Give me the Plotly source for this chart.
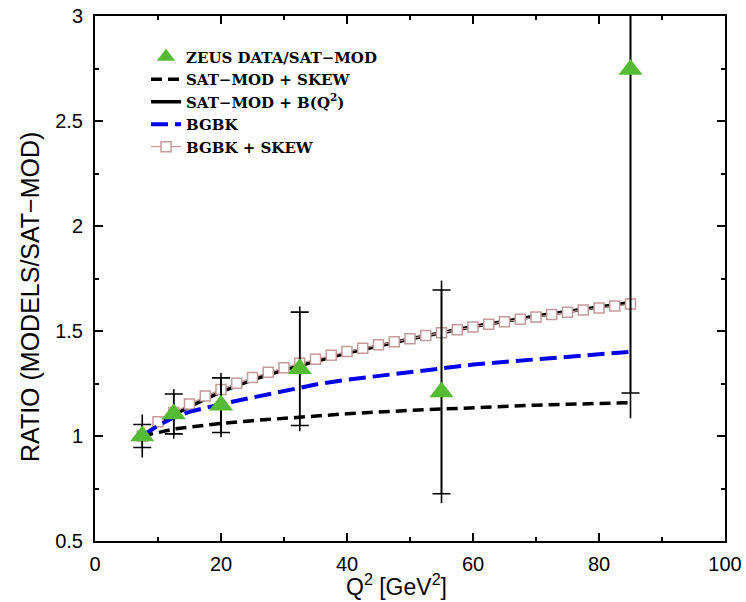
import plotly.graph_objects as go

# ZEUS data / SAT-MOD
data_x = [7.5, 12.5, 20, 32.5, 55, 85]
data_y = [1.0, 1.105, 1.147, 1.32, 1.21, 2.745]
data_stat = [0.055, 0.095, 0.13, 0.27, 0.485, 1.54]
data_tot = [0.103, 0.118, 0.153, 0.297, 0.53, 1.66]

# model curves
curve_x = [7.5, 10, 12.5, 15, 20, 25, 30, 35, 40, 50, 60, 70, 85]
satmod_skew = [1.0, 1.018, 1.033, 1.042, 1.060, 1.073, 1.085, 1.097, 1.106, 1.122, 1.136, 1.147, 1.159]
satmod_bq2 = [0.995, 1.055, 1.100, 1.140, 1.210, 1.267, 1.315, 1.357, 1.395, 1.462, 1.521, 1.571, 1.636]
bgbk = [1.0, 1.05, 1.088, 1.115, 1.152, 1.184, 1.215, 1.245, 1.268, 1.305, 1.34, 1.365, 1.401]

sq_x = [7.5, 10, 12.5, 15, 17.5, 20, 22.5, 25, 27.5, 30, 32.5, 35, 37.5, 40, 42.5, 45,
        47.5, 50, 52.5, 55, 57.5, 60, 62.5, 65, 67.5, 70, 72.5, 75, 77.5, 80, 82.5, 85]
bgbk_skew = [1.00, 1.068, 1.112, 1.152, 1.19, 1.222, 1.251, 1.278, 1.303, 1.325, 1.346, 1.365,
             1.385, 1.402, 1.418, 1.434, 1.449, 1.463, 1.478, 1.492, 1.506, 1.519, 1.532, 1.544,
             1.556, 1.567, 1.578, 1.589, 1.600, 1.610, 1.619, 1.628]

GREEN = "#55bb33"
ROSY = "#c49a9a"

fig = go.Figure()

fig.add_trace(go.Scatter(
    x=curve_x, y=satmod_bq2, mode="lines", name="SAT−MOD + B(Q<sup>2</sup>)",
    line=dict(color="black", width=3.5), legendrank=3))
fig.add_trace(go.Scatter(
    x=sq_x, y=bgbk_skew, mode="lines+markers", name="BGBK + SKEW",
    line=dict(color=ROSY, width=1.2),
    marker=dict(symbol="square", size=10, color="white", line=dict(color=ROSY, width=1.5)),
    legendrank=5))
fig.add_trace(go.Scatter(
    x=curve_x, y=bgbk, mode="lines", name="BGBK",
    line=dict(color="#0000ee", width=4, dash="17px,7px"), legendrank=4))
fig.add_trace(go.Scatter(
    x=curve_x, y=satmod_skew, mode="lines", name="SAT−MOD + SKEW",
    line=dict(color="black", width=3.5, dash="11px,6px"), legendrank=2))

# total errors (no caps)
fig.add_trace(go.Scatter(
    x=data_x, y=data_y, mode="markers", showlegend=False, hoverinfo="skip",
    marker=dict(size=1, opacity=0),
    error_y=dict(type="data", array=data_tot, color="black", thickness=1.6, width=0)))
# data with statistical errors (capped)
fig.add_trace(go.Scatter(
    x=data_x, y=data_y, mode="markers", name="ZEUS DATA/SAT−MOD",
    marker=dict(symbol="triangle-up", size=21, color=GREEN),
    error_y=dict(type="data", array=data_stat, color="black", thickness=1.6, width=9),
    legendrank=1))

axis_common = dict(
    showline=True, linecolor="black", linewidth=2, mirror="allticks",
    ticks="inside", ticklen=8, tickwidth=1.5, tickcolor="black",
    showgrid=False, zeroline=False, automargin=False,
    tickfont=dict(family="Liberation Sans, Arial, sans-serif", size=20, color="black"),
)

fig.update_xaxes(range=[0, 100], tick0=0, dtick=20,
                 minor=dict(dtick=10, ticks="inside", ticklen=4, tickwidth=1.5, tickcolor="black"),
                 ticklabelstandoff=4, **axis_common)
fig.update_yaxes(range=[0.5, 3], tick0=0.5, dtick=0.5,
                 minor=dict(dtick=0.25, ticks="inside", ticklen=4, tickwidth=1.5, tickcolor="black"),
                 ticklabelstandoff=6, **axis_common)

fig.update_layout(
    width=746, height=602,
    margin=dict(l=95, r=21, t=16, b=61, autoexpand=False),
    paper_bgcolor="white", plot_bgcolor="white",
    showlegend=True,
    legend=dict(x=0.081, y=0.9535, xanchor="left", yanchor="top",
                bgcolor="rgba(0,0,0,0)", tracegroupgap=0,
                font=dict(family="DejaVu Serif, Liberation Serif, serif", size=15,
                          color="black", weight="bold")),
    annotations=[
        dict(text="RATIO (MODELS/SAT−MOD)", xref="paper", yref="paper",
             x=-0.103, y=0.465, xanchor="center", yanchor="middle", textangle=-90,
             showarrow=False,
             font=dict(family="Liberation Sans, Arial, sans-serif", size=25, color="black")),
        dict(text="Q<sup>2</sup> [GeV<sup>2</sup>]", xref="paper", yref="paper",
             x=0.478, y=-0.083, xanchor="center", yanchor="middle",
             showarrow=False,
             font=dict(family="Liberation Sans, Arial, sans-serif", size=23, color="black")),
    ],
)

fig.write_html("out.html")
